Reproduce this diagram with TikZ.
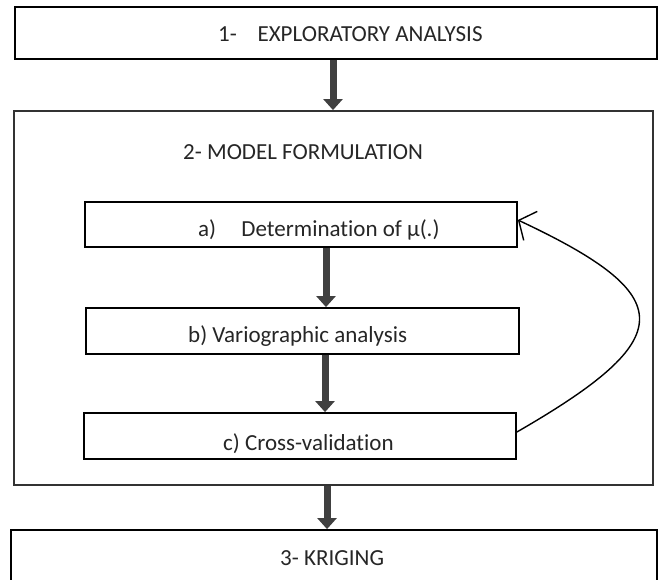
\documentclass[tikz,border=0pt]{standalone}
\usepackage{fontspec}
\setmainfont{Carlito}[Ligatures={NoCommon}]
\usetikzlibrary{arrows.meta}
\begin{document}
\begin{tikzpicture}[x=1pt,y=-1pt,
  box/.style={draw=black, line width=1.8pt, fill=white, inner sep=0pt},
  lbl/.style={anchor=base west, inner sep=0pt, font=\fontsize{23}{27}\selectfont, text=black!85},
  bigarrow/.style={draw=black!75, line width=7pt, -{Triangle[width=19pt,length=11pt]}},
  loop/.style={draw=black, line width=1.4pt, -{Straight Barb[length=13pt,width=32pt,line width=1.4pt]}}]
\useasboundingbox (0,0) rectangle (659,580);
% boxes
\node[box, minimum width=642pt, minimum height=52pt] (b1) at (336,33) {};
\node[box, draw=black!80, minimum width=639pt, minimum height=374pt] (b2) at (333.5,298) {};
\node[box, minimum width=432pt, minimum height=45pt] (ba) at (301,224.5) {};
\node[box, minimum width=433pt, minimum height=46pt] (bb) at (302.5,331) {};
\node[box, minimum width=432pt, minimum height=46pt] (bc) at (300,436) {};
\node[box, minimum width=646pt, minimum height=70pt] (b3) at (334,565) {};
% labels
\node[lbl] (t1) at (218,42) {1-\hspace{0.9em}EXPLORATORY ANALYSIS};
\node[lbl] (t2) at (183,160) {2- MODEL FORMULATION};
\node[lbl] (ta) at (198,237) {a)\hspace{1.1em}Determination of µ(.)};
\node[lbl] (tb) at (188,342) {b) Variographic analysis};
\node[lbl] (tc) at (223,450) {c) Cross-validation};
\node[lbl] (t3) at (280,565) {3- KRIGING};
% arrows
\draw[bigarrow] ([xshift=-3pt]b1.south) -- ([xshift=-0.5pt]b2.north);
\draw[bigarrow] ([xshift=25pt]ba.south) -- ([xshift=23.5pt]bb.north);
\draw[bigarrow] ([xshift=22.5pt]bb.south) -- ([xshift=25pt]bc.north);
\draw[bigarrow] ([xshift=-6.5pt]b2.south) -- ([xshift=-7pt]b3.north);
\draw[loop] ([yshift=4pt]bc.east) .. controls (680,338) and (680,296) .. ([yshift=4.5pt]ba.east);
\end{tikzpicture}
\end{document}
